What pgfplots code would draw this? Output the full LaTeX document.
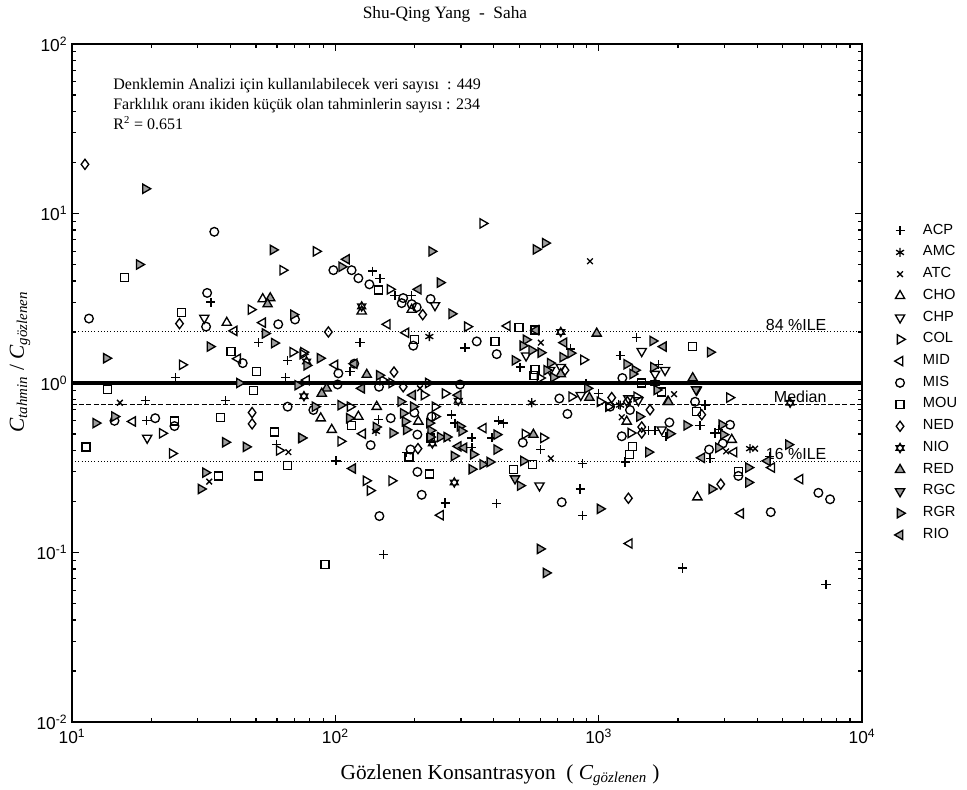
\documentclass[border=0pt]{standalone}
\usepackage{fontspec}
\setmainfont{Liberation Serif}
\newfontfamily\arial{Liberation Sans}
\usepackage{pgfplots}
\pgfplotsset{compat=1.18}
\definecolor{mgray}{gray}{0.62}
\pgfdeclareplotmark{hexagram}{%
  \pgfpathmoveto{\pgfqpoint{0pt}{\pgfplotmarksize}}%
  \pgfpathlineto{\pgfqpoint{0.866\pgfplotmarksize}{-0.5\pgfplotmarksize}}%
  \pgfpathlineto{\pgfqpoint{-0.866\pgfplotmarksize}{-0.5\pgfplotmarksize}}%
  \pgfpathclose
  \pgfpathmoveto{\pgfqpoint{0pt}{-\pgfplotmarksize}}%
  \pgfpathlineto{\pgfqpoint{0.866\pgfplotmarksize}{0.5\pgfplotmarksize}}%
  \pgfpathlineto{\pgfqpoint{-0.866\pgfplotmarksize}{0.5\pgfplotmarksize}}%
  \pgfpathclose
  \pgfusepathqfillstroke
}
\begin{document}
\begin{tikzpicture}
\useasboundingbox (-54pt,-50.25pt) rectangle (671.25pt,541.5pt);
\begin{axis}[
  at={(0,0)}, anchor=south west,
  scale only axis, width=592.5pt, height=508.5pt,
  xmode=log, ymode=log,
  xmin=10, xmax=10000, ymin=0.01, ymax=100,
  xtick={10,100,1000,10000},
  xticklabels={10\textsuperscript{1},10\textsuperscript{2},10\textsuperscript{3},10\textsuperscript{4}},
  ytick={0.01,0.1,1,10,100},
  yticklabels={10\textsuperscript{-2},10\textsuperscript{-1},10\textsuperscript{0},10\textsuperscript{1},10\textsuperscript{2}},
  minor xtick={20,30,40,50,60,70,80,90,200,300,400,500,600,700,800,900,2000,3000,4000,5000,6000,7000,8000,9000},
  minor ytick={0.02,0.03,0.04,0.05,0.06,0.07,0.08,0.09,0.2,0.3,0.4,0.5,0.6,0.7,0.8,0.9,2,3,4,5,6,7,8,9,20,30,40,50,60,70,80,90},
  ticklabel style={font=\arial\fontsize{13}{15}\selectfont},
  xticklabel style={yshift=-2pt},
  tick align=inside,
  major tick length=5.5pt, minor tick length=3pt,
  tick style={black, line width=0.9pt},
  axis line style={line width=1.5pt},
  xlabel={Gözlenen Konsantrasyon\ \ ( \textit{C}\textsubscript{\textit{gözlenen}} )},
  ylabel={\textit{C}\textsubscript{\textit{tahmin}} / \textit{C}\textsubscript{\textit{gözlenen}}},
  xlabel style={font=\fontsize{16}{18}\selectfont, at={(axis description cs:0.5418,-0.0782)}, anchor=center},
  ylabel style={font=\fontsize{16}{18}\selectfont, at={(axis description cs:-0.0658,0.531)}, anchor=center},
  legend cell align=left,
  legend style={draw=none, fill=none, at={(1.036,0.745)}, anchor=north west,
    font=\arial\fontsize{11}{13}\selectfont, row sep=0pt, column sep=11pt,
    nodes={inner sep=2.2pt, text height=8.5pt, text depth=3.4pt}},
  every axis plot/.append style={only marks, black, line width=1pt},
  clip=false,
]
\addplot[forget plot, no marks, sharp plot, line width=0.75pt, dash pattern=on 0.8pt off 1.6pt] coordinates {(10,2) (10000,2)};
\addplot[forget plot, no marks, sharp plot, line width=0.75pt, dash pattern=on 0.8pt off 1.6pt] coordinates {(10,0.345) (10000,0.345)};
\addplot[forget plot, no marks, sharp plot, line width=0.9pt, dash pattern=on 3.8pt off 1.6pt] coordinates {(10,0.75) (10000,0.75)};
\addplot[forget plot, no marks, sharp plot, line width=2.4pt] coordinates {(10,1) (10000,1)};

\addplot[mark=+, mark size=3.4pt] coordinates {
(33.7,3.0) (51.2,1.73) (24.7,1.08) (64.6,1.08) (65.9,1.36) (19.0,0.79) (38.2,0.785) (19.2,0.60) (59.9,0.435)
(138.7,4.57) (147.8,4.15) (168.5,3.29) (195,3.29) (124.1,1.73) (310.8,1.61) (113.7,1.17) (145.7,0.607) (276.7,0.648) (284.8,0.58) (330,0.474) (330,0.415) (393,0.474) (416,0.598) (410,0.194) (100.6,0.347) (186,0.39) (261,0.196) (152.2,0.097)
(783,1.59) (503,1.24) (1206,1.45) (1395,1.85) (1687,1.28) (895,0.995) (998,0.867) (1190,0.75) (1550,0.525) (1637,0.525) (1803,0.485) (2413,0.56) (1260,0.342) (870,0.336) (603,0.406) (850,0.237) (870,0.166) (2085,0.081) (434,0.58)
(2535,0.742) (2427,0.56) (2766,0.507) (2849,0.53) (2649,0.359) (4447,0.37) (7300,0.065)};
\addlegendentry{ACP}
\addplot[mark=asterisk, mark size=3.4pt] coordinates {(227.5,1.88) (142.7,0.518) (1206,0.741) (557,0.765) (3758,0.41)};
\addlegendentry{AMC}
\addplot[mark=x, mark size=3pt] coordinates {(15.2,0.765) (66.3,0.391) (33.2,0.262) (209.7,0.93) (267,0.47) (927,5.23) (603,1.73) (1933,0.859) (1224,0.628) (658,0.359) (3047,0.395) (3926,0.41)};
\addlegendentry{ATC}
\addplot[mark=triangle, mark size=4pt] coordinates {(38.7,2.27) (53.0,3.13) (125.9,2.65) (195,2.71) (88,0.62) (143.6,0.725) (122.3,0.634) (96.9,0.53) (206.7,0.593) (1278,0.593) (1828,0.775) (3202,0.463) (2370,0.212)};
\addlegendentry{CHO}
\addplot[mark=triangle, mark size=4pt, mark options={rotate=180}] coordinates {(31.8,2.42) (19.3,0.474) (239,2.87) (530,1.45) (654,1.19) (718,1.24) (1457,1.54) (1787,1.19) (1637,1.13) (2357,0.91) (855,0.848) (1297,0.81) (1415,0.79) (1736,0.53) (596,0.248)};
\addlegendentry{CHP}
\addplot[mark=triangle, mark size=4pt, mark options={rotate=-90}] coordinates {(63.1,4.63) (47.8,2.71) (26.2,1.28) (68.9,1.52) (75.2,1.48) (22.0,0.505) (24.0,0.384) (61.2,0.40) (362.7,8.74) (84.5,5.98) (161.3,3.57) (317,2.15) (75.6,1.52) (151.3,1.04) (163.7,1.0) (225.5,1.0) (217.2,0.848) (261,0.867) (113.7,0.725) (104.8,0.453) (239,0.725) (239,0.634) (130.8,0.265) (135.5,0.232) (163.7,0.265) (875,1.37) (599,1.07) (1012,0.775) (1089,0.725) (1394,0.83) (790,0.83) (1324,0.507) (525,0.50) (617,0.474) (3138,0.82)};
\addlegendentry{COL}
\addplot[mark=triangle, mark size=4pt, mark options={rotate=90}] coordinates {(41.3,2.03) (53,2.27) (42.6,1.39) (17.0,0.593) (157.6,2.22) (185.5,1.98) (99.7,1.28) (77.8,1.04) (127,0.502) (365,0.542) (251,0.166) (450,2.17) (1308,0.113) (4543,0.317) (5818,0.271) (3463,0.17) (3267,0.391)};
\addlegendentry{MID}
\addplot[mark=o, mark size=3.25pt] coordinates {(34.7,7.8) (32.6,3.4) (32.3,2.15) (11.6,2.4) (60.7,2.22) (70.3,2.37) (44.5,1.31) (65.9,0.725) (14.5,0.598) (20.7,0.62) (24.5,0.557) (98.3,4.63) (115.3,4.63) (122.3,4.15) (134.7,3.82) (181,3.17) (178.6,2.96) (195,2.92) (203.7,2.80) (230,3.13) (197.7,1.66) (344.3,1.76) (410,1.48) (102.7,1.14) (118,1.30) (146.5,0.95) (102,0.98) (297.5,0.98) (82.5,0.693) (162.3,0.62) (136.2,0.43) (199.5,0.669) (204.9,0.496) (232,0.634) (193,0.405) (205,0.299) (212.8,0.219) (147,0.164) (1230,1.07) (2323,0.775) (1105,0.725) (1315,0.693) (709,0.81) (761,0.657) (1856,0.585) (1224,0.485) (515,0.445) (724,0.198) (3155,0.567) (2960,0.44) (2626,0.405) (3393,0.283) (6831,0.225) (7564,0.206) (4503,0.173)};
\addlegendentry{MIS}
\addplot[mark=square, mark size=3pt] coordinates {(15.8,4.2) (26,2.6) (40.2,1.53) (50.2,1.17) (48.8,0.90) (13.6,0.915) (24.5,0.598) (11.3,0.42) (36.6,0.625) (58.6,0.514) (65.9,0.327) (36.1,0.283) (51.2,0.283) (145.7,3.54) (199.5,1.80) (404,1.76) (115.3,0.56) (230,0.474) (190.6,0.366) (227.5,0.29) (91.4,0.0848) (498.5,2.12) (573,2.05) (573,1.20) (568,1.11) (2270,1.64) (1457,1.0) (1736,0.886) (2357,0.678) (1347,0.423) (1308,0.379) (562,0.331) (474,0.31) (3393,0.30)};
\addlegendentry{MOU}
\addplot[mark=diamond, mark size=3.8pt] coordinates {(11.2,19.5) (25.6,2.24) (48.3,0.669) (48.3,0.574) (214.7,2.53) (94.1,2.0) (167,1.16) (181,0.95) (206,0.41) (745,1.19) (1121,0.82) (1285,0.775) (1567,0.695) (1457,0.55) (1457,0.507) (1297,0.209) (2463,0.65) (2908,0.253)};
\addlegendentry{NED}
\addplot[mark=hexagram, mark size=3.6pt, mark options={fill=black!55, draw=black, line width=0.8pt}] coordinates {(125.9,2.83) (77.8,1.34) (76,0.836) (293,0.786) (233.6,0.44) (283,0.259) (718,2.0) (1637,1.0) (5333,0.765)};
\addlegendentry{NIO}
\addplot[mark=triangle*, mark size=4pt, mark options={fill=mgray, draw=black}] coordinates {(56.6,3.17) (55.3,2.92) (131.6,1.12) (92.7,0.93) (88.8,0.867) (983,1.96) (718,1.13) (922,0.82) (1840,0.775) (2276,1.07) (565,0.496)};
\addlegendentry{RED}
\addplot[mark=triangle*, mark size=4pt, mark options={fill=mgray, draw=black, rotate=180}] coordinates {(481,0.273) (2344,0.915)};
\addlegendentry{RGC}
\addplot[mark=triangle*, mark size=4pt, mark options={fill=mgray, draw=black, rotate=-90}] coordinates {
(19,14) (18,5.0) (58,6.1) (54.1,1.96) (58.6,1.72) (69.3,2.53) (33.4,1.64) (13.5,1.40) (43.2,1.0) (71.9,0.97) (12.3,0.58) (14.5,0.634) (38.2,0.447) (45.8,0.42) (74.2,0.474) (32.1,0.296) (30.9,0.237)
(232,5.98) (105.7,4.85) (249.8,3.91) (276.7,2.56) (77.8,1.27) (87.5,1.40) (146.9,1.11) (74.5,0.474) (83.7,0.725) (104.8,0.74) (113,0.62) (142.7,0.55) (165.2,0.507) (177,0.776) (181,0.663) (184,0.593) (186,0.53) (197.7,0.725) (227.5,0.58) (230,0.525) (229,0.48) (250,0.48) (265,0.48) (297.5,0.555) (302,0.52) (282.3,0.371) (334,0.379) (329.7,0.31) (362.7,0.331) (386,0.342) (410,0.496) (410,0.405)
(578,6.14) (626,6.69) (530,1.80) (515,1.66) (557,1.56) (603,1.51) (730,1.42) (783,1.50) (481,1.36) (654,1.31) (635,1.19) (673,1.08) (1604,1.77) (1278,1.29) (1374,1.19) (1346,1.13) (1614,1.24) (1662,0.91) (906,0.93) (1428,0.634) (1866,0.502) (2159,0.562) (1545,0.391) (518,0.347) (503,0.248) (1012,0.181) (599,0.105) (631,0.0758)
(2649,1.52) (2935,0.567) (2977,0.496) (2849,0.415) (5254,0.433) (3704,0.317) (3704,0.259) (2688,0.237)};
\addlegendentry{RGR}
\addplot[mark=triangle*, mark size=4pt, mark options={fill=mgray, draw=black, rotate=90}] coordinates {(110.4,5.37) (206.7,3.57) (118,1.30) (125.9,0.93) (196.7,0.848) (293,0.848) (293,0.423) (308,0.415) (116.4,0.313) (578,2.05) (739,1.73) (1762,1.64) (2463,0.362) (4374,0.347)};
\addlegendentry{RIO}

\node[anchor=north west, align=left, inner sep=0pt, font=\fontsize{12}{15}\selectfont] at (rel axis cs:0.052,0.95)
  {Denklemin Analizi için kullanılabilecek veri sayısı\ \ : 449\\Farklılık oranı ikiden küçük olan tahminlerin sayısı : 234\\R\textsuperscript{2} = 0.651};
\node[anchor=south east, inner sep=1pt, font=\arial\fontsize{12}{14}\selectfont] at (axis cs:7430,2) {84 \%ILE};
\node[anchor=south east, inner sep=1pt, font=\arial\fontsize{12}{14}\selectfont] at (axis cs:7430,0.75) {Median};
\node[anchor=south east, inner sep=1pt, font=\arial\fontsize{12}{14}\selectfont] at (axis cs:7430,0.345) {16 \%ILE};
\end{axis}
\node[font=\fontsize{13}{15}\selectfont] at (279.75pt,531pt) {Shu-Qing Yang\ \ -\ \ Saha};
\end{tikzpicture}
\end{document}
